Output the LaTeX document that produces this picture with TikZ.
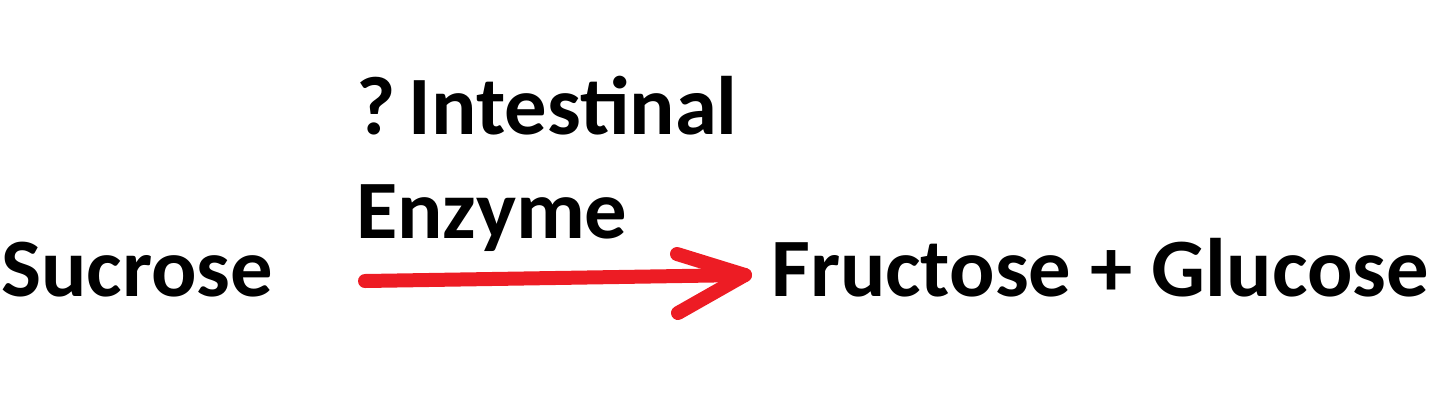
\documentclass[tikz,border=0pt]{standalone}
\usepackage{fontspec}
\setmainfont{Carlito}
\definecolor{arrowred}{RGB}{237,28,36}
\begin{document}
\begin{tikzpicture}[x=1pt,y=-1pt,
  lbl/.style={inner sep=0pt,anchor=base west,font=\fontsize{83}{98}\selectfont\bfseries,xscale=1.02},
  redpen/.style={draw=arrowred,line width=14pt,line cap=round,line join=round}]
\useasboundingbox (0,0) rectangle (1440,408);
\node[lbl] (suc) at (1,296) {Sucrose};
\node[lbl] (enz1) at (356,134) {?\hspace{0.16em}Intestinal};
\node[lbl] (enz2) at (356,238) {Enzyme};
\node[lbl] (prod) at (771,296) {Fructose + Glucose};
\coordinate (a0) at (365,281);
\coordinate (tip) at (745,275);
\coordinate (u) at (677,254);
\coordinate (l) at (678,313);
\draw[redpen] (a0) -- (tip);
\draw[redpen] (u) -- (tip) -- (l);
\end{tikzpicture}
\end{document}
